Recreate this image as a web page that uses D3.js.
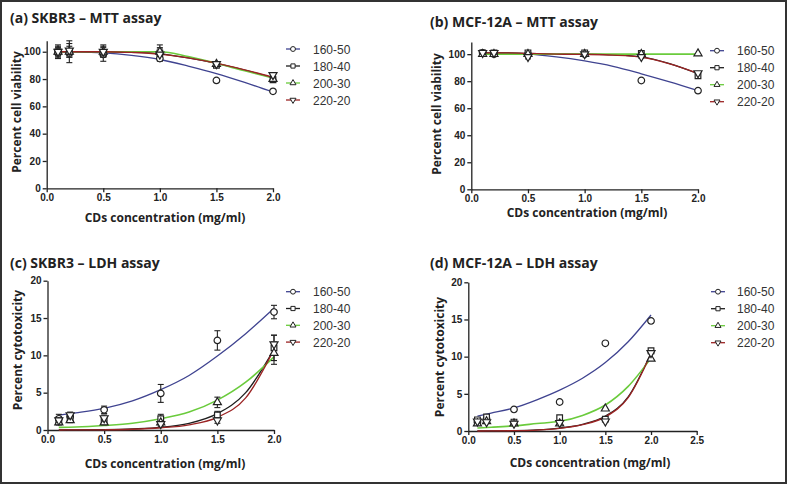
<!DOCTYPE html>
<html>
<head>
<meta charset="utf-8">
<script src="https://cdn.jsdelivr.net/npm/d3@7/dist/d3.min.js"></script>
<style>
  html, body { margin: 0; padding: 0; background: #fff; }
  svg { display: block; }
  .axis path, .axis line { stroke: #222; stroke-width: 1.3px; }
  .axis text { font-family: "Liberation Sans", Arial, sans-serif; font-weight: bold; font-size: 10px; fill: #222; }
  .title { font-family: "Open Sans", sans-serif; font-weight: 700; font-size: 14px; fill: #222; }
  .axlabel { font-family: "Open Sans", sans-serif; font-weight: 700; font-size: 12px; fill: #222; }
  .legend text { font-family: "Liberation Sans", Arial, sans-serif; font-size: 12px; fill: #333; }
</style>
</head>
<body>
<div id="chart"></div>
<script>
// ---- data ----
const seriesNames = ['160-50', '180-40', '200-30', '220-20'];
const seriesColors = ['#3f4390', '#1e1e1e', '#6acb3c', '#9b2424'];
const seriesSymbols = ['circle', 'square', 'triangle', 'triangleDown'];

// concentrations (mg/ml) that were measured
const doses = [0.1, 0.2, 0.5, 1.0, 1.5, 2.0];
const fitDoses = [0.1, 0.25, 0.5, 0.75, 1.0, 1.25, 1.5, 1.75, 2.0];

// (a) SKBR3 - MTT
const mttSkbr3Points = [
    [99, 99, 98, 95, 79, 71],
    [100, 100, 99, 99, 90, 79.5],
    [100, 100, 100, 100, 91, 80],
    [100, 101, 100, 98, 91, 83]
];
const mttSkbr3Errors = [
    [2, 2, 2, 1, 1, 1],
    [5, 8, 6, 6, 1, 2],
    [3, 4, 3, 3, 1, 1],
    [4, 5, 4, 4, 1, 1]
];
const mttSkbr3Fits = [
    [100, 99.9, 99.2, 97.3, 94.3, 89.5, 84, 77.5, 70.5],
    [100, 100, 100, 99.6, 98.5, 95.5, 91.5, 86.5, 81],
    [100, 100, 100, 100, 100, 96.5, 91.5, 86, 80.8],
    [100, 100, 100, 99.5, 98.3, 95.5, 91.6, 86.7, 81.3]
];

// (b) MCF-12A - MTT
const mttMcfPoints = [
    [101, 100, 100, 100, 80.5, 73],
    [101, 101, 101, 101, 100.5, 84],
    [100, 100, 100, 100, 100, 100.5],
    [101, 101, 98, 100, 98, 86]
];
const mttMcfErrors = [
    [0, 0, 0, 0, 0, 0],
    [1, 1, 1, 1, 1, 1],
    [0, 0, 0, 0, 0, 0],
    [1, 1, 1.5, 1, 1, 1]
];
const mttMcfFits = [
    [100.5, 100.5, 100, 98, 95, 91, 85.5, 79.5, 73],
    [101, 101, 100.5, 100, 100, 99.5, 98, 93, 85.5],
    [100, 100, 100, 100, 100, 100, 100, 100, 100],
    [101, 101, 100.5, 100, 99.8, 99.3, 97.8, 92.8, 85.8]
];

// (c) SKBR3 - LDH
const ldhSkbr3Points = [
    [1.5, 1.8, 2.7, 4.9, 12.0, 15.8],
    [1.2, 1.5, 1.3, 1.5, 2.0, 11.0],
    [1.0, 1.3, 1.0, 1.0, 3.7, 10.3],
    [1.3, 2.0, 1.6, 0.8, 1.3, 11.5]
];
const ldhSkbr3Errors = [
    [0.6, 0.5, 0.5, 1.2, 1.3, 0.9],
    [0.5, 0.5, 0.5, 0.6, 0.5, 1.7],
    [0.3, 0.3, 0.3, 0.3, 0.7, 1.5],
    [0.5, 0.4, 0.4, 0.3, 0.4, 1.2]
];
const ldhSkbr3Fits = [
    [2.0, 2.3, 2.9, 3.9, 5.4, 7.3, 9.9, 12.9, 16.3],
    [0.0, 0.02, 0.05, 0.15, 0.35, 0.9, 2.2, 5.0, 10.8],
    [0.35, 0.4, 0.6, 0.9, 1.5, 2.4, 4.0, 6.4, 9.8],
    [0.0, 0.01, 0.03, 0.1, 0.3, 0.7, 1.7, 4.3, 10.8]
];

// (d) MCF-12A - LDH
const ldhMcfPoints = [
    [1.2, 1.6, 2.9, 3.9, 11.8, 14.8],
    [1.5, 1.9, 1.2, 1.8, 1.6, 10.8],
    [1.0, 1.3, 1.0, 1.0, 3.0, 9.7],
    [1.3, 1.2, 1.0, 1.1, 1.3, 10.5]
];
const ldhMcfFits = [
    [2.0, 2.4, 3.1, 4.2, 5.5, 7.1, 9.2, 12.0, 15.6],
    [0.0, 0.02, 0.05, 0.15, 0.4, 0.9, 2.0, 4.6, 10.5],
    [0.4, 0.5, 0.7, 1.0, 1.3, 2.1, 3.5, 6.0, 9.8],
    [0.0, 0.01, 0.04, 0.12, 0.35, 0.85, 1.9, 4.5, 10.4]
];

const mttTicks = [0, 20, 40, 60, 80, 100];
const ldhTicks = [0, 5, 10, 15, 20];

// ---- layout ----
const width = 787, height = 484;

const svg = d3.select('#chart').append('svg')
    .attr('width', width)
    .attr('height', height);

svg.append('rect')
    .attr('x', 1).attr('y', 1)
    .attr('width', width - 2).attr('height', height - 2)
    .attr('fill', '#fff')
    .attr('stroke', '#333')
    .attr('stroke-width', 2);

const symbolTypes = {
    circle: d3.symbolCircle,
    square: d3.symbolSquare,
    triangle: d3.symbolTriangle,
    triangleDown: d3.symbolTriangle
};

function drawSymbol(g, kind, x, y, scale) {
    const size = (kind === 'circle' ? 34 : (kind === 'square' ? 32 : 28)) * scale;
    g.append('path')
        .attr('d', d3.symbol().type(symbolTypes[kind]).size(size)())
        .attr('transform', `translate(${x},${y})` + (kind === 'triangleDown' ? ' rotate(180)' : ''))
        .attr('fill', '#fff')
        .attr('stroke', '#222')
        .attr('stroke-width', scale < 1 ? 1 : 1.2);
}

/**
 * One GraphPad-like panel
 */
function drawPanel(p) {
    const g = svg.append('g');

    const x = d3.scaleLinear().domain(p.xDomain).range(p.xRange);
    const y = d3.scaleLinear().domain(p.yDomain).range(p.yRange);

    // axes
    g.append('g')
        .attr('class', 'axis')
        .attr('transform', `translate(0,${p.yRange[0]})`)
        .call(d3.axisBottom(x).tickValues(p.xTicks).tickFormat(d3.format('.1f'))
            .tickSize(4).tickSizeOuter(0).tickPadding(2));
    g.append('g')
        .attr('class', 'axis')
        .attr('transform', `translate(${p.xRange[0]},0)`)
        .call(d3.axisLeft(y).tickValues(p.yTicks).tickSize(4).tickSizeOuter(0).tickPadding(2));

    // fitted curves
    const line = d3.line()
        .x((d, i) => x(fitDoses[i]))
        .y(d => y(d))
        .curve(d3.curveMonotoneX);
    p.fits.forEach((f, s) => {
        g.append('path')
            .attr('d', line(f))
            .attr('fill', 'none')
            .attr('stroke', seriesColors[s])
            .attr('stroke-width', s === 2 ? 1.6 : 1.3);
    });

    // error bars
    if (p.errors) {
        p.errors.forEach((errs, s) => {
            errs.forEach((e, i) => {
                if (!e) return;
                const cx = x(doses[i]);
                const y1 = y(p.points[s][i] + e), y2 = y(p.points[s][i] - e);
                g.append('line').attr('x1', cx).attr('x2', cx).attr('y1', y1).attr('y2', y2)
                    .attr('stroke', '#222').attr('stroke-width', 1.1);
                [y1, y2].forEach(yy => g.append('line')
                    .attr('x1', cx - 3).attr('x2', cx + 3).attr('y1', yy).attr('y2', yy)
                    .attr('stroke', '#222').attr('stroke-width', 1.1));
            });
        });
    }

    // points
    p.points.forEach((vals, s) => {
        vals.forEach((v, i) => drawSymbol(g, seriesSymbols[s], x(doses[i]), y(v), 1));
    });

    // title and axis labels
    g.append('text').attr('class', 'title')
        .attr('x', p.title[1]).attr('y', p.title[2]).text(p.title[0]);
    g.append('text').attr('class', 'axlabel')
        .attr('text-anchor', 'middle')
        .attr('x', p.xLabel[0]).attr('y', p.xLabel[1])
        .text('CDs concentration (mg/ml)');
    g.append('text').attr('class', 'axlabel')
        .attr('text-anchor', 'middle')
        .attr('transform', `translate(${p.yLabel[1]},${p.yLabel[2]}) rotate(-90)`)
        .text(p.yLabel[0]);

    // legend
    const lg = g.append('g').attr('class', 'legend');
    seriesNames.forEach((name, s) => {
        const ly = p.legend[1] + s * p.legend[3];
        lg.append('line')
            .attr('x1', p.legend[0] - 7).attr('x2', p.legend[0] + 7)
            .attr('y1', ly).attr('y2', ly)
            .attr('stroke', seriesColors[s]).attr('stroke-width', 1.3);
        drawSymbol(lg, seriesSymbols[s], p.legend[0], ly, 0.55);
        lg.append('text')
            .attr('x', p.legend[2]).attr('y', ly + 4.5)
            .text(name);
    });
}

drawPanel({
    title: ['(a) SKBR3 \u2013 MTT assay', 10, 23],
    xDomain: [0, 2], xRange: [46.7, 273], xTicks: [0, 0.5, 1, 1.5, 2],
    yDomain: [0, 108], yRange: [188.3, 40.8], yTicks: mttTicks,
    points: mttSkbr3Points, errors: mttSkbr3Errors, fits: mttSkbr3Fits,
    xLabel: [165, 222], yLabel: ['Percent cell viability', 21, 112],
    legend: [293, 49, 313, 17]
});

drawPanel({
    title: ['(b) MCF-12A \u2013 MTT assay', 430, 27],
    xDomain: [0, 2], xRange: [471.3, 698], xTicks: [0, 0.5, 1, 1.5, 2],
    yDomain: [0, 109], yRange: [189.3, 42], yTicks: mttTicks,
    points: mttMcfPoints, errors: mttMcfErrors, fits: mttMcfFits,
    xLabel: [587, 217], yLabel: ['Percent cell viability', 441, 114],
    legend: [717, 50.7, 737, 17]
});

drawPanel({
    title: ['(c) SKBR3 \u2013 LDH assay', 10, 268],
    xDomain: [0, 2], xRange: [47.5, 274], xTicks: [0, 0.5, 1, 1.5, 2],
    yDomain: [0, 20], yRange: [430, 280.7], yTicks: ldhTicks,
    points: ldhSkbr3Points, errors: ldhSkbr3Errors, fits: ldhSkbr3Fits,
    xLabel: [165, 468], yLabel: ['Percent cytotoxicity', 22, 350],
    legend: [293, 291.7, 313, 16.8]
});

drawPanel({
    title: ['(d) MCF-12A \u2013 LDH assay', 430, 268],
    xDomain: [0, 2.5], xRange: [468.3, 696.7], xTicks: [0, 0.5, 1, 1.5, 2, 2.5],
    yDomain: [0, 20], yRange: [431, 282.3], yTicks: ldhTicks,
    points: ldhMcfPoints, errors: null, fits: ldhMcfFits,
    xLabel: [590, 467], yLabel: ['Percent cytotoxicity', 444, 357],
    legend: [718, 291.7, 737, 17]
});
</script>
</body>
</html>
